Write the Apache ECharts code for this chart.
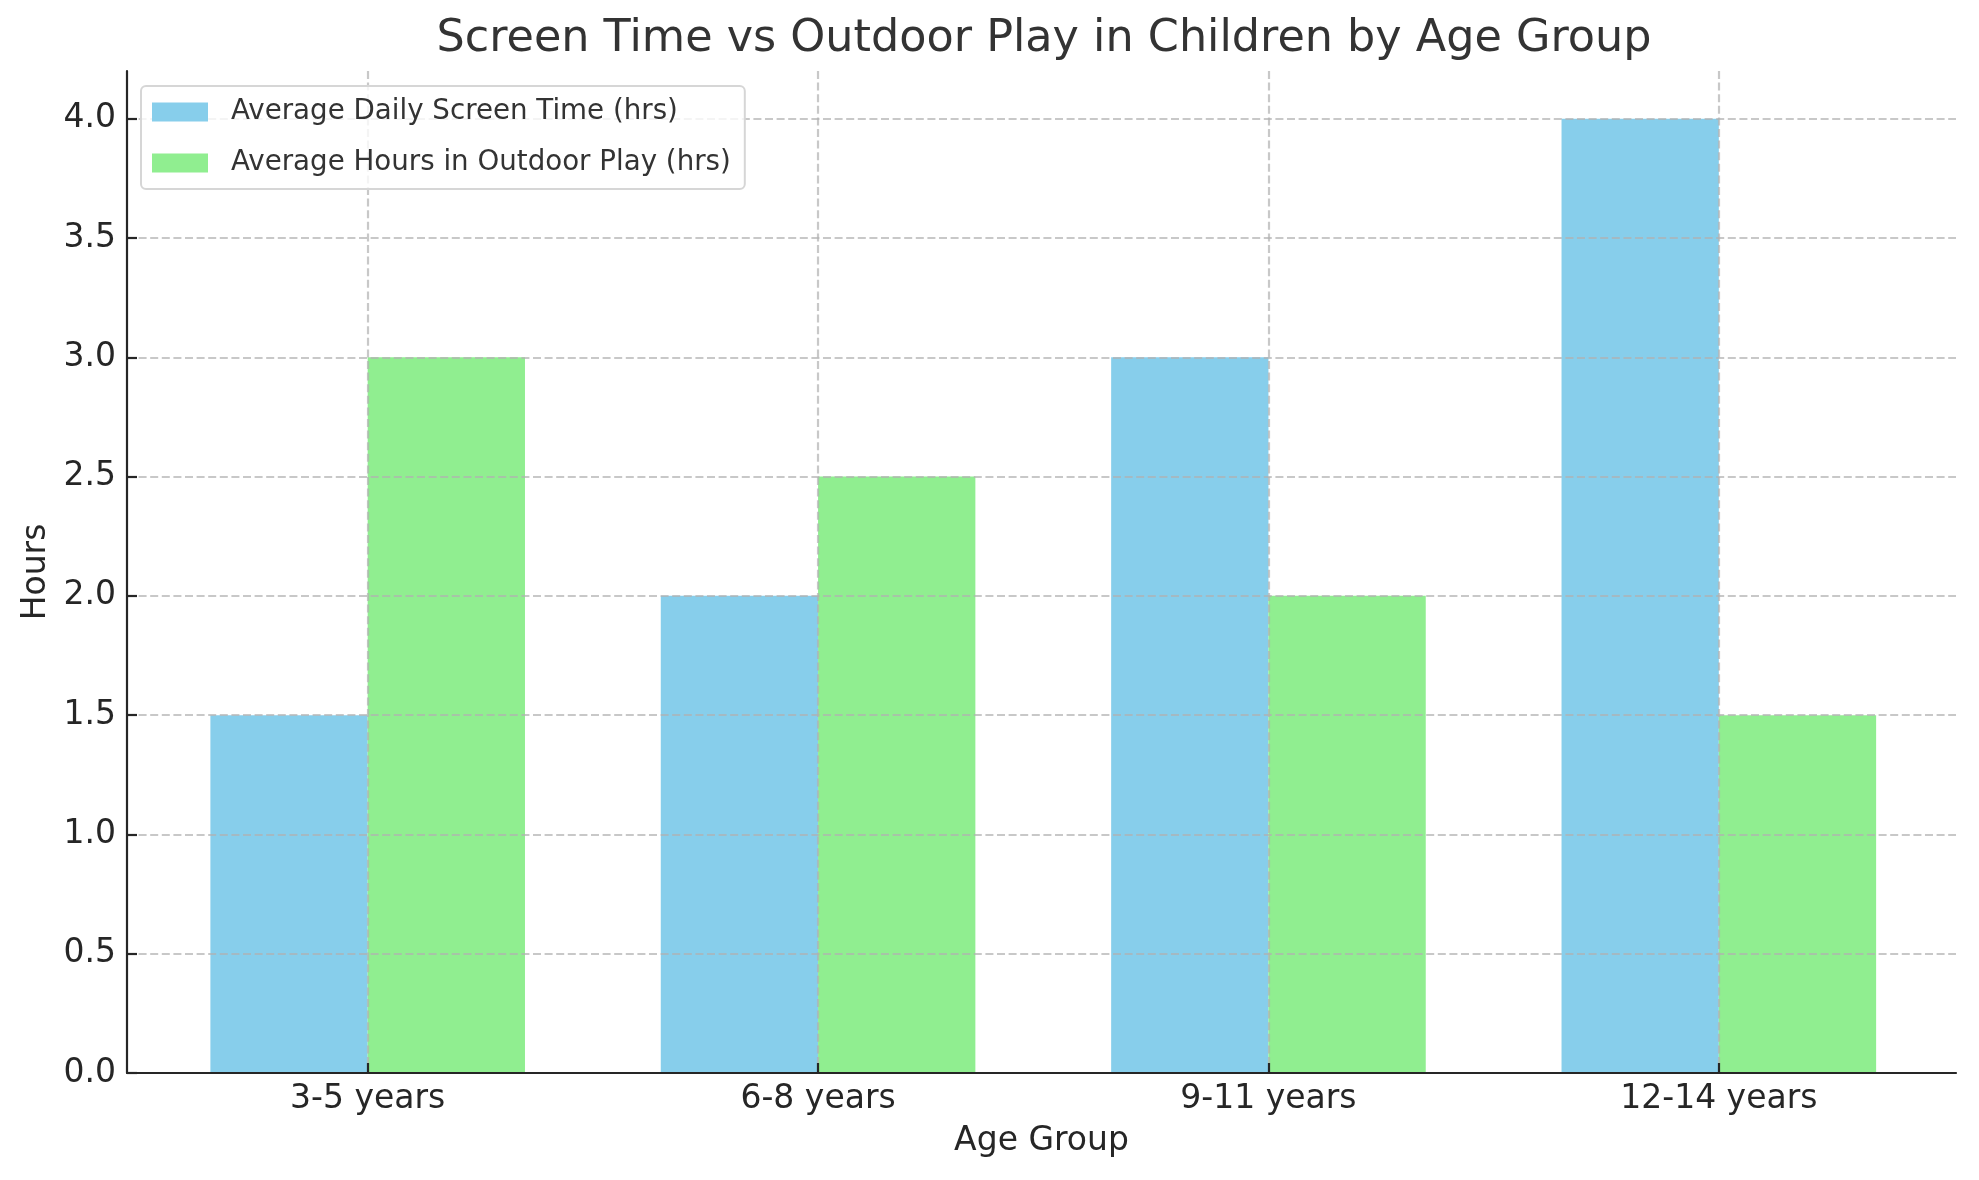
<!DOCTYPE html>
<html>
<head>
<meta charset="utf-8">
<script src="https://cdn.jsdelivr.net/npm/echarts@6/dist/echarts.min.js"></script>
<style>
html,body{margin:0;padding:0;background:#fff;}
#chart{width:1979px;height:1180px;}
</style>
</head>
<body>
<div id="chart"></div>
<script>
const categories = ['3-5 years', '6-8 years', '9-11 years', '12-14 years'];
const screenTime = [1.5, 2.0, 3.0, 4.0];
const outdoorPlay = [3.0, 2.5, 2.0, 1.5];
const yTicks = [0, 0.5, 1.0, 1.5, 2.0, 2.5, 3.0, 3.5, 4.0];
const xTicks = [0, 1, 2, 3];
const seriesNames = ['Average Daily Screen Time (hrs)', 'Average Hours in Outdoor Play (hrs)'];

const FONT = 'DejaVu Sans';
const gridStyle = { color: 'rgba(176,176,176,0.7)', width: 2.2, type: [8, 3.6] };
const chart = echarts.init(document.getElementById('chart'), null, { renderer: 'canvas' });
chart.setOption({
  animation: false,
  backgroundColor: '#ffffff',
  textStyle: { fontFamily: FONT },
  title: {
    text: 'Screen Time vs Outdoor Play in Children by Age Group',
    left: 1044, top: 17, padding: 0, textAlign: 'center',
    textStyle: { fontFamily: FONT, fontSize: 44.5, fontWeight: 'normal', color: '#333333' }
  },
  legend: {
    orient: 'vertical', left: 141, top: 86, z: 20,
    padding: [12, 14, 12, 11],
    itemWidth: 56, itemHeight: 19, itemGap: 23,
    icon: 'rect',
    borderColor: '#d6d6d6', borderWidth: 2, borderRadius: 5,
    backgroundColor: 'rgba(255,255,255,0.8)',
    textStyle: { fontFamily: FONT, fontSize: 27.7, color: '#333333', padding: [0, 0, 0, 18], lineHeight: 19 },
    data: seriesNames
  },
  grid: { left: 127, top: 71, width: 1829, height: 1002, containLabel: false },
  xAxis: {
    type: 'value', min: -0.5344, max: 3.5266, z: 5,
    name: 'Age Group', nameLocation: 'middle', nameGap: 52,
    nameTextStyle: { fontFamily: FONT, fontSize: 33, color: '#262626' },
    axisLine: { show: true, onZero: false, lineStyle: { color: '#262626', width: 2.2 } },
    axisTick: { show: true, inside: true, length: 10, customValues: xTicks, lineStyle: { color: '#262626', width: 2.2 } },
    axisLabel: { show: true, margin: 10, customValues: xTicks, fontFamily: FONT, fontSize: 33, color: '#262626',
      formatter: v => categories[Math.round(v)] },
    splitLine: { show: true, lineStyle: gridStyle }
  },
  yAxis: {
    type: 'value', min: 0, max: 4.2, z: 5,
    name: 'Hours', nameLocation: 'middle', nameGap: 72, nameRotate: 90,
    nameTextStyle: { fontFamily: FONT, fontSize: 33, color: '#262626' },
    axisLine: { show: true, onZero: false, lineStyle: { color: '#262626', width: 2.2 } },
    axisTick: { show: true, inside: true, length: 10, customValues: yTicks, lineStyle: { color: '#262626', width: 2.2 } },
    axisLabel: { show: true, margin: 11, customValues: yTicks, fontFamily: FONT, fontSize: 33, color: '#262626',
      formatter: v => v.toFixed(1) },
    splitLine: { show: true, lineStyle: gridStyle }
  },
  series: [
    {
      name: seriesNames[0], type: 'bar', barWidth: 157.3, barGap: '0%',
      itemStyle: { color: '#87CEEB' },
      data: xTicks.map((x, i) => [x, screenTime[i]])
    },
    {
      name: seriesNames[1], type: 'bar', barWidth: 157.3, barGap: '0%',
      itemStyle: { color: '#90EE90' },
      data: xTicks.map((x, i) => [x, outdoorPlay[i]])
    }
  ]
});
</script>
</body>
</html>
